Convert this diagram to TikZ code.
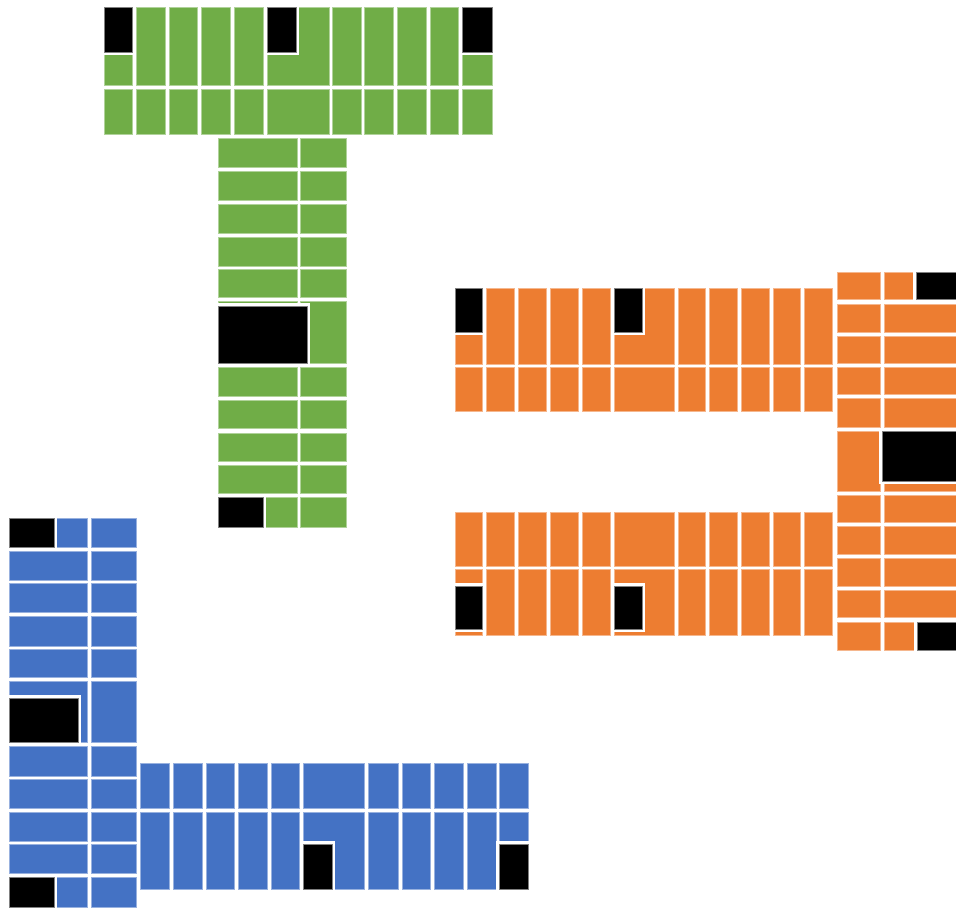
\documentclass[tikz,border=0pt]{standalone}
\usepackage{xcolor}
\usepackage{tikz}

\definecolor{gfill}{HTML}{70AD47}
\definecolor{ofill}{HTML}{ED7D31}
\definecolor{bfill}{HTML}{4472C4}

\begin{document}
\begin{tikzpicture}[
    x=0.75pt,
    y=-0.75pt,
    gcell/.style={
        fill=gfill,
        draw=gfill!55!white,
        line width=0.4pt
    },
    ocell/.style={
        fill=ofill,
        draw=ofill!55!white,
        line width=0.4pt
    },
    bcell/.style={
        fill=bfill,
        draw=bfill!55!white,
        line width=0.4pt
    },
    block/.style={
        fill=black,
        draw=gray,
        line width=0.5pt,
        preaction={draw=white, line width=4.5pt}
    }
]

\useasboundingbox (0,0) rectangle (956,907);

% green top wing
\foreach \xa/\xb in {104/132,136/165,169/197,201/230,234/263,267/329,332/361,364/393,397/426,430/458,462/492}
    \foreach \ya/\yb in {7/85,89/134}
        \draw[gcell] (\xa,\ya) rectangle (\xb,\yb);

% green stem
\foreach \ya/\yb in {138/167,171/200,204/233,237/266,269/297,301/363,367/396,400/428,433/461,465/493,497/527}
    \foreach \xa/\xb in {218/297,300/346}
        \draw[gcell] (\xa,\ya) rectangle (\xb,\yb);

% orange upper and lower wings
\foreach \xa/\xb in {455/482,486/514,518/546,550/578,582/610,614/674,678/705,709/737,741/769,773/800,804/832}
    \foreach \ya/\yb in {288/364,367/411,512/566,569/635}
        \draw[ocell] (\xa,\ya) rectangle (\xb,\yb);

% orange right column
\foreach \ya/\yb in {272/299,304/332,336/363,367/394,398/427,431/491,495/522,526/554,558/586,590/617,622/650}
    \foreach \xa/\xb in {837/880,884/956}
        \draw[ocell] (\xa,\ya) rectangle (\xb,\yb);

% blue left column
\foreach \ya/\yb in {518/547,551/580,583/612,616/646,649/677,681/742,746/776,779/808,812/841,844/873,877/907}
    \foreach \xa/\xb in {9/87,91/136}
        \draw[bcell] (\xa,\ya) rectangle (\xb,\yb);

% blue bottom wing
\foreach \xa/\xb in {140/169,173/202,206/234,238/267,271/299,303/364,368/398,402/430,434/463,467/496,499/528}
    \foreach \ya/\yb in {763/808,812/889}
        \draw[bcell] (\xa,\ya) rectangle (\xb,\yb);

% black blocks
\foreach \xa/\ya/\xb/\yb in {
    104/7/132/52, 267/7/296/52, 462/7/492/52,
    218/306/307/363, 218/497/263/527,
    455/288/482/332, 614/288/642/332,
    455/586/482/629, 614/586/642/629,
    916/272/956/299, 882/431/956/481, 917/622/956/650,
    9/518/54/547, 9/698/78/742, 9/877/54/907,
    303/844/332/889, 499/844/528/889}
    \draw[block] (\xa,\ya) rectangle (\xb,\yb);

\end{tikzpicture}
\end{document}
